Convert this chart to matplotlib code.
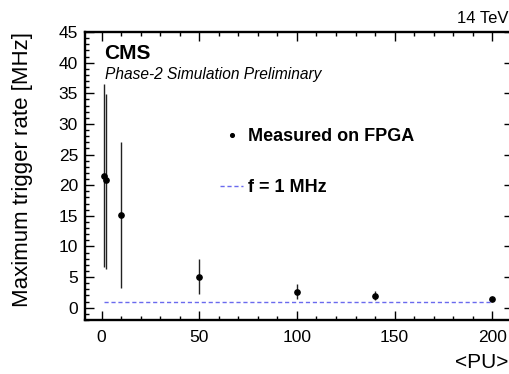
import numpy as np
import matplotlib
matplotlib.use("Agg")
import matplotlib.pyplot as plt
from matplotlib.ticker import MultipleLocator

plt.rcParams['font.family'] = ['Liberation Sans', 'DejaVu Sans']

# Data
pu = [1, 2, 10, 50, 100, 140, 200]
rate = [21.5, 20.8, 15.2, 5.05, 2.6, 1.9, 1.35]
err_up = [15.0, 14.1, 11.9, 2.95, 1.2, 0.8, 0.25]
err_down = [14.8, 14.4, 11.9, 2.85, 1.1, 0.65, 0.25]
limit_rate = 1.0

fig = plt.figure(figsize=(5.10, 3.74), dpi=100)
# right frame edge sits just past the canvas, as in the reference
ax = fig.add_axes([85 / 510, 1 - 320 / 374, 428 / 510, 288 / 374])

# error bars, then the markers on top
ax.errorbar(pu, rate, yerr=[err_down, err_up], fmt='none', ecolor='#222222',
            elinewidth=1.0, capsize=0)
pts, = ax.plot(pu, rate, 'o', color='black', markersize=3.8,
               label='Measured on FPGA')
lim, = ax.plot([pu[0], pu[-1]], [limit_rate, limit_rate], color='#6a6aee',
               lw=1.0, ls=(0, (3, 2)), label='f = 1 MHz')

ax.set_xlim(-8.5, 210.6)
ax.set_ylim(-2, 45)

# ROOT-like ticks: inward, all four sides
ax.xaxis.set_major_locator(MultipleLocator(50))
ax.xaxis.set_minor_locator(MultipleLocator(10))
ax.yaxis.set_major_locator(MultipleLocator(5))
ax.yaxis.set_minor_locator(MultipleLocator(1))
ax.tick_params(which='both', direction='in', top=True, right=True,
               labelsize=12.5, width=1.0)
ax.tick_params(which='major', length=6.5)
ax.tick_params(which='minor', length=3.2)
ax.tick_params(axis='x', pad=7)
ax.tick_params(axis='y', pad=5)
for sp in ax.spines.values():
    sp.set_linewidth(1.7)

ax.set_ylabel('Maximum trigger rate [MHz]', fontsize=16, loc='top')
ax.yaxis.set_label_coords(-0.122, 1.0)
ax.set_xlabel('<PU>', fontsize=15, loc='right')
ax.xaxis.set_label_coords(0.99, -0.115)

ax.text(0.045, 0.906, 'CMS', transform=ax.transAxes, fontsize=15,
        fontweight='bold', va='baseline')
ax.text(0.047, 0.837, 'Phase-2 Simulation Preliminary', transform=ax.transAxes,
        fontsize=11.2, style='italic', va='baseline')
fig.text(0.998, 1 - 23 / 374, '14 TeV', fontsize=12, ha='right', va='baseline')

leg = ax.legend(handles=[pts, lim], loc='upper left',
                bbox_to_anchor=(0.315, 0.665), frameon=False,
                prop={'weight': 'bold', 'size': 13}, borderpad=0,
                handlelength=1.3, handletextpad=0.25, labelspacing=1.85,
                borderaxespad=0, markerscale=0.7)

fig.savefig('out.png', dpi=100)
